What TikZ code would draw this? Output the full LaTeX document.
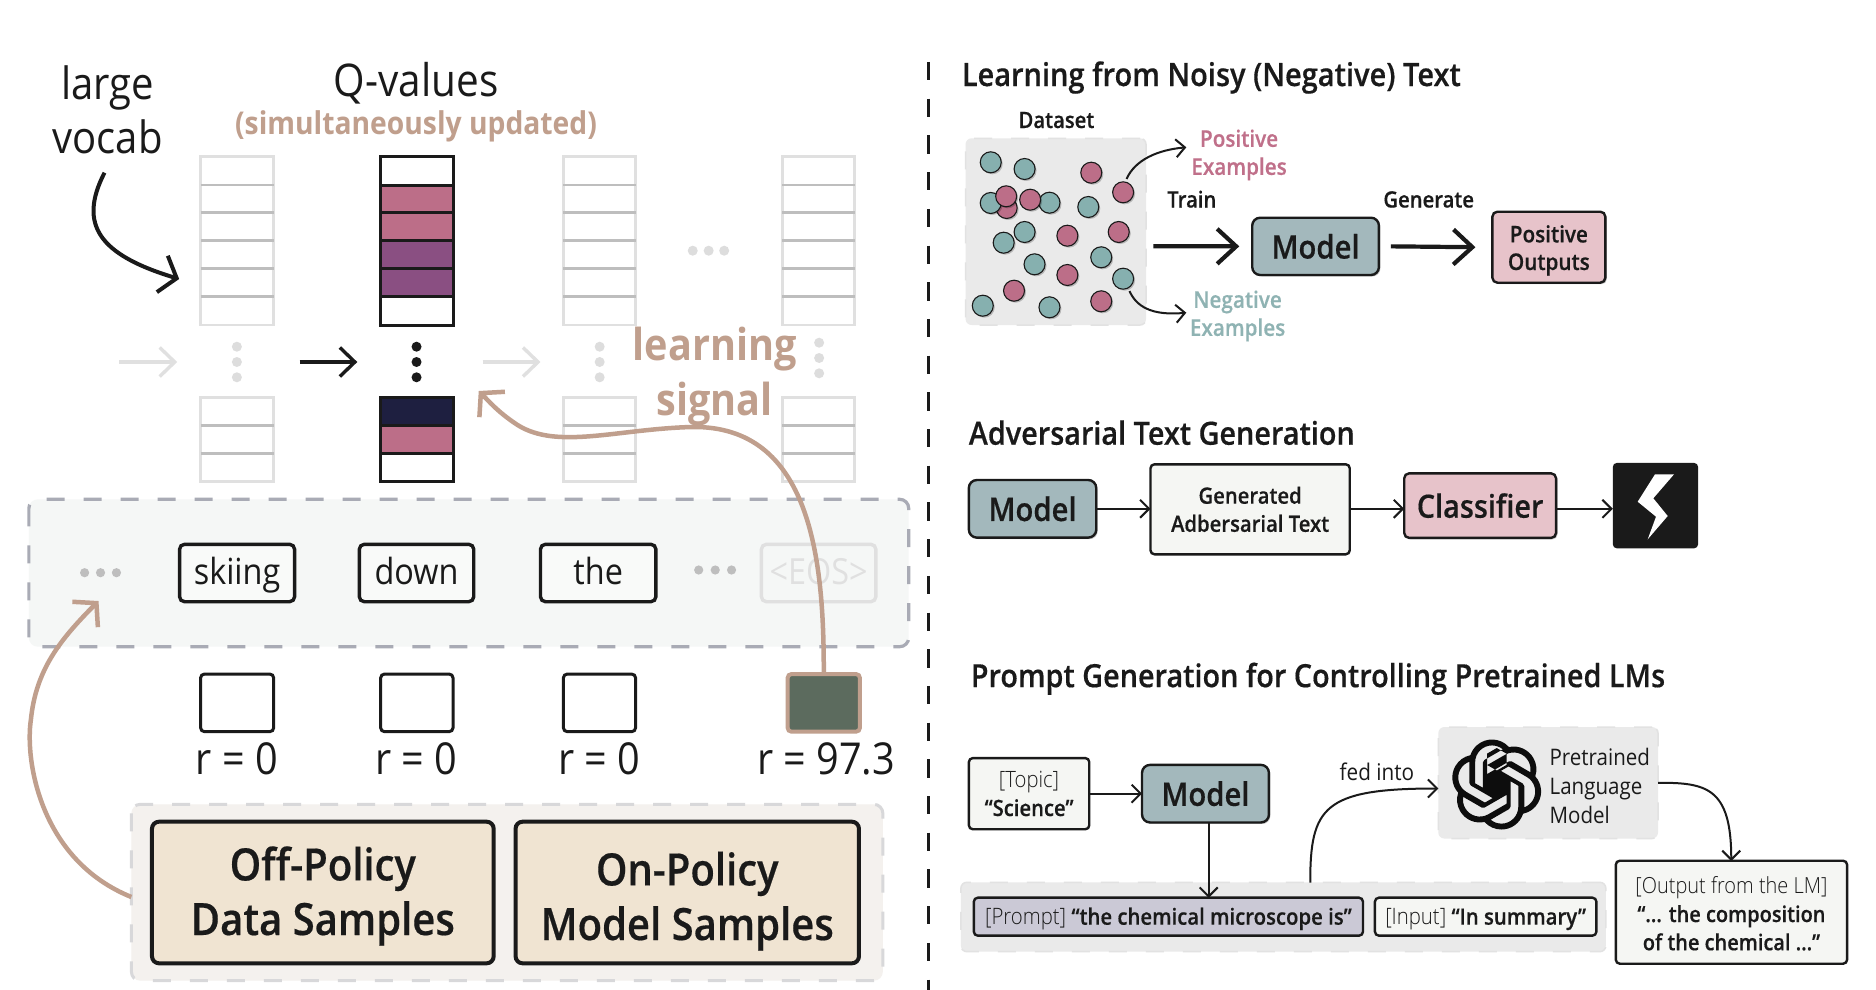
\documentclass[tikz,border=0pt]{standalone}
\usepackage{fontspec}
\setmainfont{Open Sans}[FakeStretch=0.9]
\newfontfamily\semib{Open Sans Semibold}[FakeStretch=0.9,FakeBold=0.4]
\newfontfamily\lightf{Open Sans Light}[FakeStretch=0.9]
\usetikzlibrary{arrows.meta,shadows,svg.path,calc}
\definecolor{ink}{HTML}{1A1A1A}
\definecolor{tan}{HTML}{C09F8D}
\definecolor{fadeline}{HTML}{E0E0E0}
\definecolor{fademid}{HTML}{BEBEBE}
\definecolor{fadedot}{HTML}{DDDDDD}
\definecolor{pinkq}{HTML}{BC6E88}
\definecolor{purpq}{HTML}{8A4F82}
\definecolor{navyq}{HTML}{1E1F40}
\definecolor{posc}{HTML}{C0708A}
\definecolor{negc}{HTML}{8FB3B3}
\definecolor{tealc}{HTML}{86B0AF}
\definecolor{modelc}{HTML}{A3B8BC}
\definecolor{rosec}{HTML}{E7C3CA}
\definecolor{paper}{HTML}{F5F6F3}
\definecolor{panel}{HTML}{EAEAEA}
\definecolor{paneledge}{HTML}{E2E2E2}
\definecolor{sampfill}{HTML}{F0E4D2}
\definecolor{bandfill}{HTML}{F5F7F6}
\definecolor{tokfill}{HTML}{F9FAF9}
\definecolor{rgreen}{HTML}{5C6B5E}
\definecolor{sampbgc}{HTML}{F4F1EE}
\definecolor{sampdash}{HTML}{D8D8DA}
\definecolor{banddash}{HTML}{A9ABB5}
\definecolor{promptc}{HTML}{CBC9D6}
\newcommand{\fs}[2][1.18]{\pgfmathsetmacro\fslead{#1*#2}\fontsize{#2}{\fslead}\selectfont}
\newcommand{\bx}[7][]{%
  \pgfmathsetmacro\bxcx{(#3+#5)/2}\pgfmathsetmacro\bxcy{(#4+#6)/2}%
  \pgfmathsetmacro\bxw{(#5-#3)*0.9953}\pgfmathsetmacro\bxh{#6-#4}%
  \node[inner sep=0pt,outer sep=0pt,minimum width=\bxw pt,minimum height=\bxh pt,align=center,text=ink,#1] (#2) at (\bxcx,\bxcy) {#7};}
\newcommand{\fadedcol}[2]{%
  \draw[fadeline,line width=2.8pt] (#1,156.7) rectangle (#2,325);
  \foreach \yy in {185,212.7,240.7,268.7,296.7} \draw[fademid,line width=2.6pt] (#1,\yy) -- (#2,\yy);
  \draw[fadeline,line width=2.8pt] (#1,397.3) rectangle (#2,481.7);
  \foreach \yy in {425.7,453.3} \draw[fademid,line width=2.6pt] (#1,\yy) -- (#2,\yy);}
\tikzset{
  txt/.style={inner sep=0pt,outer sep=0pt,text=ink,align=center},
  softshadow/.style={drop shadow={shadow xshift=1.5pt,shadow yshift=-1.5pt,opacity=.22,fill=black}},
  token/.style={draw=ink,line width=3.4pt,fill=tokfill,rounded corners=5pt,text height=27pt,text depth=5pt},
  rbox/.style={draw=ink,line width=3pt,fill=white,rounded corners=4pt},
  plainbox/.style={draw=ink,line width=2.4pt,rounded corners=4pt},
  modelbox/.style={plainbox,fill=modelc,rounded corners=8pt,softshadow},
  rosebox/.style={plainbox,fill=rosec,rounded corners=5pt,softshadow},
  paperbox/.style={plainbox,fill=paper},
  graypanel/.style={fill=panel,rounded corners=6pt,draw=paneledge,line width=1.5pt,dash pattern=on 18pt off 19pt},
  tdot/.style={circle,draw=ink,line width=1.1pt,minimum size=21pt,inner sep=0pt,fill=tealc,softshadow},
  pdot/.style={circle,draw=ink,line width=1.1pt,minimum size=21pt,inner sep=0pt,fill=pinkq,softshadow},
  thinarrow/.style={ink,line width=2pt,-{Straight Barb[length=9pt,width=18pt]}},
  thickarrow/.style={ink,line width=4.2pt,-{Straight Barb[length=19pt,width=35pt]}},
  colarrow/.style={line width=3.4pt,-{Straight Barb[length=15pt,width=29pt]}},
  sample/.style={draw=ink,line width=4pt,fill=sampfill,rounded corners=7pt,font={\semib\fs[1.227]{44.5}}},
}
\begin{document}
\begin{tikzpicture}[x=1pt,y=-1pt,font=\color{ink}]
\useasboundingbox (0,0) rectangle (1876,990);
\fill[white] (0,0) rectangle (1876,990);

\begin{scope}[x=0.9953pt]
% left panel labels
\node[txt,anchor=base,font=\fs{44.5}] (large) at (108,99.5) {large};
\node[txt,anchor=base,font=\fs{44.5}] (vocab) at (108,153) {vocab};
\node[txt,anchor=base,font=\fs{45}] (qv) at (418,96) {Q-values};
\node[txt,anchor=base,font=\bfseries\fs{31.4},text=tan] (sim) at (418,134) {(simultaneously updated)};

% columns
\fadedcol{201.5}{275}
\fadedcol{566}{638.6}
\fadedcol{786}{858.7}
\foreach \ya/\yb/\cc in {156.7/185/white,185/212.7/pinkq,212.7/240.7/pinkq,240.7/268.7/purpq,268.7/296.7/purpq,296.7/325/white,397.3/425.7/navyq,425.7/453.3/pinkq,453.3/481.7/white}
  \draw[ink,line width=3pt,fill=\cc] (382.4,\ya) rectangle (455.2,\yb);

% ellipsis dots
\foreach \xx/\yy/\cc in {238/346.7/fadedot,238/362/fadedot,238/377.3/fadedot,418.5/346.7/ink,418.5/362/ink,418.5/377.3/ink,602.5/346.7/fadedot,602.5/362/fadedot,602.5/377.3/fadedot,823/342.7/fadedot,823/358/fadedot,823/373.3/fadedot,696/250.7/fadedot,712/250.7/fadedot,727.6/250.7/fadedot}
  \fill[\cc] (\xx,\yy) circle (5pt);

% column arrows
\coordinate (af0) at (120,362); \coordinate (af1) at (178,362);
\coordinate (ab0) at (301,362); \coordinate (ab1) at (359,362);
\coordinate (ag0) at (485,362); \coordinate (ag1) at (543,362);
\draw[fadeline,colarrow] (af0) -- (af1);
\draw[ink,colarrow] (ab0) -- (ab1);
\draw[fadeline,colarrow] (ag0) -- (ag1);

% token band
\bx[fill=bandfill,rounded corners=9pt]{bandbg}{29}{499.3}{913}{646.7}{}
\draw[banddash,line width=3.2pt,dash pattern=on 18pt off 19pt,rounded corners=9pt] (bandbg.north west) rectangle (bandbg.south east);
\bx[token,font=\fs{36}]{t1}{180.4}{544.3}{296}{601.7}{skiing}
\bx[token,font=\fs{36}]{t2}{361}{544.3}{476}{601.7}{down}
\bx[token,font=\fs{36}]{t3}{543}{544.3}{659}{601.7}{the}
\bx[draw=fadeline,line width=3.4pt,rounded corners=5pt,font=\fs{36},text=fadeline,text height=27pt,text depth=5pt]{t4}{765}{544.3}{880}{601.7}{<EOS>}
\foreach \xx/\yy in {85/572.7,101/572.7,117/572.7,702/570,718.6/570,735/570}
  \fill[fademid] (\xx,\yy) circle (4.6pt);

% reward boxes
\bx[rbox]{r1}{201.5}{674}{275}{731.7}{}
\bx[rbox]{r2}{382.4}{674}{455.2}{731.7}{}
\bx[rbox]{r3}{566}{674}{638.6}{731.7}{}
\bx[draw=tan,line width=4pt,fill=rgreen,rounded corners=4pt]{r4}{791.3}{674}{864}{731.7}{}
\node[txt,anchor=base,font=\fs{44}] (l1) at (238,774) {r = 0};
\node[txt,anchor=base,font=\fs{44}] (l2) at (418.5,774) {r = 0};
\node[txt,anchor=base,font=\fs{44}] (l3) at (602,774) {r = 0};
\node[txt,anchor=base,font=\fs{44}] (l4) at (830,774) {r = 97.3};

% samples
\bx[fill=sampbgc,rounded corners=9pt]{sampbg}{132}{804.3}{887}{980.7}{}
\draw[sampdash,line width=3pt,dash pattern=on 18pt off 19pt,rounded corners=9pt] (sampbg.north west) rectangle (sampbg.south east);
\bx[sample,text height=95pt,text depth=10pt]{off}{152.7}{821.7}{496}{963.3}{Off-Policy\\Data Samples}
\bx[sample,text height=105pt,text depth=10pt]{on}{518}{821.7}{863}{963.3}{On-Policy\\Model Samples}

% learning signal
\node[txt,font={\bfseries\fs[1.25]{44}},text=tan] (ls) at (718,376.5) {learning\\signal};
\coordinate (vocabstart) at (105,172.7);
\coordinate (vocabend) at (180,279);
\draw[ink,line width=4pt,-{Straight Barb[length=15pt,width=38pt]}] (vocabstart) .. controls (78,225) and (100,255) .. (vocabend);
\coordinate (sigend) at (481,391);
\coordinate (bandend) at (99,601);
\coordinate (sampstart) at (132,897);
\draw[tan,line width=4.5pt,-{Straight Barb[length=16pt,width=36pt]}] (r4.north) .. controls (828,560) and (815,425) .. (695,427) .. controls (620,429) and (560,450) .. (520,425) .. controls (500,412) and (490,400) .. (sigend);
\draw[tan,line width=4.5pt,-{Straight Barb[length=16pt,width=36pt]}] (sampstart) .. controls (40,860) and (25,760) .. (31,720) .. controls (36,670) and (60,640) .. (bandend);

% divider
\coordinate (div0) at (932.6,62); \coordinate (div1) at (932.6,990);
\draw[ink,line width=2.6pt,dash pattern=on 18.3pt off 18.4pt] (div0) -- (div1);
\end{scope}

% ---- Panel 1
\begin{scope}[x=0.9953pt,shift={(4.4pt,0pt)}]
\node[txt,anchor=base west,font=\semib\fs{32.2}] (h1) at (962,86) {Learning from Noisy (Negative) Text};
\node[txt,anchor=base,font=\semib\fs{22.5}] (dset) at (1057,128) {Dataset};
\bx[graypanel]{ds}{965.7}{138.3}{1147}{325}{}
\node[pdot] (d1) at (1007,208) {};
\foreach \n/\xx/\yy in {a/991/162.3,b/1025/169,c/991/203,d/1050/202.7,e/1089/207,f/1025/232,g/1004/242.7,h/1035/264.3,i/1102/257.3,j/1124/278.7,k/983/305.7,l/1050/307.3}
  \node[tdot] (t\n) at (\xx,\yy) {};
\foreach \n/\xx/\yy in {a/1092/172.7,b/1124/192.3,c/1006.5/196.3,d/1030.6/199.7,e/1068/235.7,f/1119.6/232,g/1068/275,h/1014.4/290.7,i/1102/301.3}
  \node[pdot] (p\n) at (\xx,\yy) {};
\node[txt,font={\semib\fs[1.22]{23}},text=posc] (pe) at (1240.5,155) {Positive\\Examples};
\node[txt,font={\semib\fs[1.22]{23}},text=negc] (ne) at (1239,316) {Negative\\Examples};
\coordinate (pos0) at (1127.4,179); \coordinate (pos1) at (1187.5,147.3);
\coordinate (neg0) at (1130.4,291); \coordinate (neg1) at (1187.5,312.7);
\draw[thinarrow] (pos0) .. controls (1136,160) and (1158,150) .. (pos1);
\draw[thinarrow] (neg0) .. controls (1137,306) and (1152,316) .. (neg1);
\node[txt,anchor=base,font=\semib\fs{22.5}] (train) at (1193,207.5) {Train};
\node[txt,anchor=base,font=\semib\fs{22.5}] (gener) at (1431,207.5) {Generate};
\bx[modelbox,font=\semib\fs{32.5}]{m1}{1253.7}{217.7}{1381}{275}{Model}
\bx[rosebox,font={\semib\fs[1.2]{23}},text height=55.6pt,text depth=10pt]{po}{1495}{211.7}{1608.5}{282.7}{Positive\\Outputs}
\coordinate (tr0) at (1154.5,246.3);
\draw[thickarrow] (tr0) -- ($(m1.west)+(-13,0)$);
\draw[thickarrow] ($(m1.east)+(12,0)$) -- ($(po.west)+(-17,0)$);
\end{scope}

\begin{scope}[x=0.9953pt,y=-0.9936pt,shift={(4.4pt,-2.56pt)}]
% ---- Panel 2
\node[txt,anchor=base west,font=\semib\fs{32}] (h2) at (969,445) {Adversarial Text Generation};
\bx[modelbox,font=\semib\fs{32.5}]{m2}{969}{480.7}{1097}{538.3}{Model}
\bx[paperbox,font={\semib\fs[1.25]{22.5}}]{gen}{1151.5}{465}{1351.7}{555}{Generated\\Adbersarial Text}
\bx[rosebox,font=\semib\fs{32}]{cl}{1406.4}{474}{1559}{538.6}{Classifier}
\bx[fill=ink,rounded corners=4pt]{atk}{1616}{463.6}{1701.7}{549}{}
\draw[thinarrow] (m2.east) -- (gen.west |- m2.east);
\draw[thinarrow] (gen.east |- m2.east) -- (cl.west |- m2.east);
\draw[thinarrow] (cl.east |- m2.east) -- (atk.west |- m2.east);

% ---- Panel 3
\node[txt,anchor=base west,font=\semib\fs{32}] (h3) at (971,689) {Prompt Generation for Controlling Pretrained LMs};
\bx[paperbox,font={\fs[1.27]{22.5}}]{topic}{969}{760.6}{1090}{831.8}{{\lightf [Topic]}\\{\semib “Science”}}
\bx[modelbox,font=\semib\fs{32.5}]{m3}{1143}{767.4}{1270.5}{825}{Model}
\bx[graypanel]{low}{961}{885.6}{1609}{955}{}
\bx[plainbox,fill=promptc,font=\fs{22.6},text height=19.5pt,text depth=3.5pt]{prompt}{974}{901}{1365}{939}{{\lightf [Prompt]} {\semib “the chemical microscope is”}}
\bx[paperbox,font=\fs{22.6},text height=19.5pt,text depth=3.5pt]{input}{1377}{901}{1599.5}{939}{{\lightf [Input]} {\semib “In summary”}}
\bx[graypanel]{lm}{1440.7}{729.5}{1661.4}{841}{}
\node[txt,align=left,anchor=west,font={\fs[1.27]{22.8}}] (lmt) at (1552.5,788.5) {Pretrained\\Language\\Model};
\node[txt,anchor=base,font=\fs{23}] (fed) at (1379,783.4) {fed into};
\bx[paperbox,font={\fs[1.27]{22.2}},text height=80pt,text depth=4pt]{out}{1619}{864}{1851.4}{967}{{\lightf [Output from the LM]}\\{\semib “... the composition}\\{\semib of the chemical ...”}}
\draw[thinarrow] (topic.east |- m3.west) -- (m3.west);
\coordinate (mdown) at (1210,825); \coordinate (pdown) at (1210,901);
\draw[thinarrow] (mdown) -- (pdown);
\coordinate (fed0) at (1312,885.6); \coordinate (fed1) at (1440.7,791);
\draw[thinarrow] (fed0) .. controls (1312,810) and (1325,791) .. (fed1);
\coordinate (o1) at (1735,864);
\draw[thinarrow] (lm.east) .. controls (1710,785) and (1735,790) .. (o1);
\end{scope}

% lightning bolt (true pixel coordinates)
\fill[white] (1655,474.3) -- (1674,474.3) -- (1653.3,498.3) -- (1667.7,516) -- (1647.7,539.3) -- (1656,516.7) -- (1637.7,501.7) -- cycle;
% language-model logo (true pixel coordinates)
\begin{scope}[shift={(1451.7,739.5)},x=1pt,y=1pt,scale=3.75,yscale=-1]
\fill[black!95] (0,0) svg {M22.2819 9.8211a5.9847 5.9847 0 0 0-.5157-4.9108 6.0462 6.0462 0 0 0-6.5098-2.9A6.0651 6.0651 0 0 0 4.9807 4.1818a5.9847 5.9847 0 0 0-3.9977 2.9 6.0462 6.0462 0 0 0 .7427 7.0966 5.98 5.98 0 0 0 .511 4.9107 6.051 6.051 0 0 0 6.5146 2.9001A5.9847 5.9847 0 0 0 13.2599 24a6.0557 6.0557 0 0 0 5.7718-4.2058 5.9894 5.9894 0 0 0 3.9977-2.9001 6.0557 6.0557 0 0 0-.7475-7.0729zm-9.022 12.6081a4.4755 4.4755 0 0 1-2.8764-1.0408l.1419-.0804 4.7783-2.7582a.7948 .7948 0 0 0 .3927 -.6813v-6.7369l2.02 1.1686a.071 .071 0 0 1 .038 .052v5.5826a4.504 4.504 0 0 1-4.4945 4.4944zm-9.6607-4.1254a4.4708 4.4708 0 0 1-.5346-3.0137l.142 .0852 4.783 2.7582a.7712 .7712 0 0 0 .7806 0l5.8428-3.3685v2.3324a.0804 .0804 0 0 1-.0332 .0615L9.74 19.9502a4.4992 4.4992 0 0 1-6.1408-1.6464zM2.3408 7.8956a4.485 4.485 0 0 1 2.3655-1.9728V11.6a.7664 .7664 0 0 0 .3879 .6765l5.8144 3.3543-2.0201 1.1685a.0757 .0757 0 0 1-.071 0l-4.8303-2.7865A4.504 4.504 0 0 1 2.3408 7.872zm16.5963 3.8558L13.1038 8.364 15.1192 7.2a.0757 .0757 0 0 1 .071 0l4.8303 2.7913a4.4944 4.4944 0 0 1-.6765 8.1042v-5.6772a.79 .79 0 0 0-.407 -.667zm2.0107-3.0231l-.142 -.0852-4.7735-2.7818a.7759 .7759 0 0 0-.7854 0L9.409 9.2297V6.8974a.0662 .0662 0 0 1 .0284 -.0615l4.8303-2.7866a4.4992 4.4992 0 0 1 6.6802 4.66zM8.3065 12.863l-2.02-1.1638a.0804 .0804 0 0 1-.038 -.0567V6.0742a4.4992 4.4992 0 0 1 7.3757-3.4537l-.142 .0805L8.704 5.459a.7948 .7948 0 0 0-.3927 .6813zm1.0976-2.3654l2.602-1.4998 2.6069 1.4998v2.9994l-2.5974 1.4997-2.6067-1.4997Z};
\end{scope}
\end{tikzpicture}
\end{document}
